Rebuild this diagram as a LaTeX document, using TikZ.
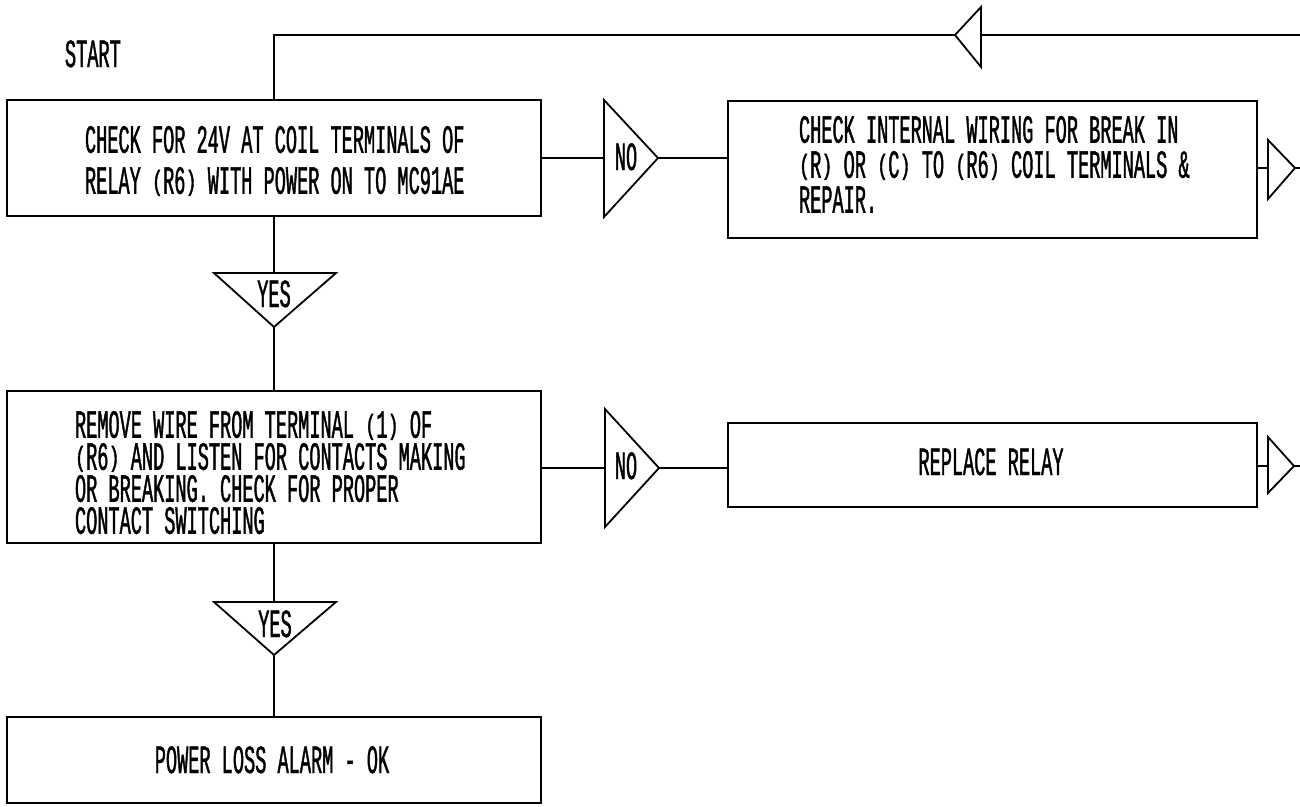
\documentclass[tikz,border=0pt]{standalone}
\usepackage{graphicx}
\usepackage{fontspec}
\setmainfont{Liberation Mono}[FakeStretch=0.465, FakeBold=1]
\newcommand\plp{\raisebox{0.09em}{\scalebox{1}[0.7]{(}}}
\newcommand\prp{\raisebox{0.09em}{\scalebox{1}[0.7]{)}}}
\begin{document}
\begin{tikzpicture}[x=1pt,y=-1pt,
  ln/.style={line width=1.8pt, line join=miter},
  box/.style={draw, line width=1.8pt, rectangle, inner sep=0pt, outer sep=0pt},
  tri/.style={draw, line width=1.8pt, fill=white, line join=miter},
  txt/.style={font=\fontsize{40}{40}\selectfont, inner sep=0pt, outer sep=0pt,
    text height=23pt, text depth=0pt},
  mtxt/.style={align=left, inner sep=0pt, outer sep=0pt, anchor=north west}]
\useasboundingbox (0,0) rectangle (1300,806);
\fill[white] (0,0) rectangle (1300,806);

% START
\node[txt, anchor=base west] (start) at (65,67) {START};

% boxes
\node[box, minimum width=534pt, minimum height=116pt] (box1) at (274,158) {};
\node[box, minimum width=529pt, minimum height=137pt] (box2) at (992.5,169.5) {};
\node[box, minimum width=534pt, minimum height=152pt] (box3) at (274,467) {};
\node[box, minimum width=529pt, minimum height=84pt] (box4) at (992.5,465) {};
\node[box, minimum width=534pt, minimum height=86pt] (box5) at (274,760) {};

% box texts (first baseline = north + 26)
\node[mtxt, font=\fontsize{40}{41}\selectfont] (t1) at (85,126)
  {\rule{0pt}{26pt}CHECK FOR 24V AT COIL TERMINALS OF\\
   RELAY \plp R6\prp{} WITH POWER ON TO MC91AE};

\node[mtxt, font=\fontsize{40}{35}\selectfont] (t2) at (799,116)
  {\rule{0pt}{26pt}CHECK INTERNAL WIRING FOR BREAK IN\\
   \plp R\prp{} OR \plp C\prp{} TO \plp R6\prp{} COIL TERMINALS \&\\
   REPAIR.};

\node[mtxt, font=\fontsize{40}{32}\selectfont] (t3) at (75,411)
  {\rule{0pt}{26pt}REMOVE WIRE FROM TERMINAL \plp 1\prp{} OF\\
   \plp R6\prp{} AND LISTEN FOR CONTACTS MAKING\\
   OR BREAKING. CHECK FOR PROPER\\
   CONTACT SWITCHING};

\node[txt, anchor=base] (t4) at (991,475) {REPLACE RELAY};
\node[txt, anchor=base] (t5) at (272,773) {POWER LOSS ALARM - OK};

% feedback line at the top
\coordinate (fbR) at (1300,35);
\draw[ln] (fbR) -- (box1.north |- fbR) -- (box1.north);
\draw[tri] (955,35) -- (981,7) -- (981,67) -- cycle;
\coordinate (fbtip) at (955,35);

% NO 1
\coordinate (no1b) at (604,158);
\coordinate (no1t) at (658,158);
\draw[ln] (box1.east |- no1b) -- (no1b);
\draw[ln] (no1t) -- (box2.west |- no1t);
\draw[tri] (604,100) -- (604,217) -- (no1t) -- cycle;
\node[txt, anchor=base] (no1) at (626,170) {NO};

% exit arrow box2
\coordinate (ex1b) at (1268,168);
\coordinate (ex1t) at (1295,168);
\coordinate (ex1e) at (1300,168);
\draw[ln] (box2.east |- ex1b) -- (ex1b);
\draw[ln] (ex1t) -- (ex1e);
\draw[tri] (1268,140) -- (1268,199) -- (ex1t) -- cycle;

% YES 1
\coordinate (yes1top) at (274,273);
\coordinate (yes1tip) at (274,327);
\draw[ln] (box1.south) -- (yes1top);
\draw[ln] (yes1tip) -- (box3.north);
\draw[tri] (214,273) -- (336,273) -- (yes1tip) -- cycle;
\node[txt, anchor=base] (yes1) at (274,307) {YES};

% NO 2
\coordinate (no2b) at (605,468);
\coordinate (no2t) at (659,468);
\draw[ln] (box3.east |- no2b) -- (no2b);
\draw[ln] (no2t) -- (box4.west |- no2t);
\draw[tri] (605,409) -- (605,527) -- (no2t) -- cycle;
\node[txt, anchor=base] (no2) at (626,479) {NO};

% exit arrow box4
\coordinate (ex2b) at (1268,466);
\coordinate (ex2t) at (1294,466);
\coordinate (ex2e) at (1300,466);
\draw[ln] (box4.east |- ex2b) -- (ex2b);
\draw[ln] (ex2t) -- (ex2e);
\draw[tri] (1268,437) -- (1268,493) -- (ex2t) -- cycle;

% YES 2
\coordinate (yes2top) at (274,602);
\coordinate (yes2tip) at (274,655);
\draw[ln] (box3.south) -- (yes2top);
\draw[ln] (yes2tip) -- (box5.north);
\draw[tri] (214,602) -- (336,602) -- (yes2tip) -- cycle;
\node[txt, anchor=base] (yes2) at (275,637) {YES};
\end{tikzpicture}
\end{document}
